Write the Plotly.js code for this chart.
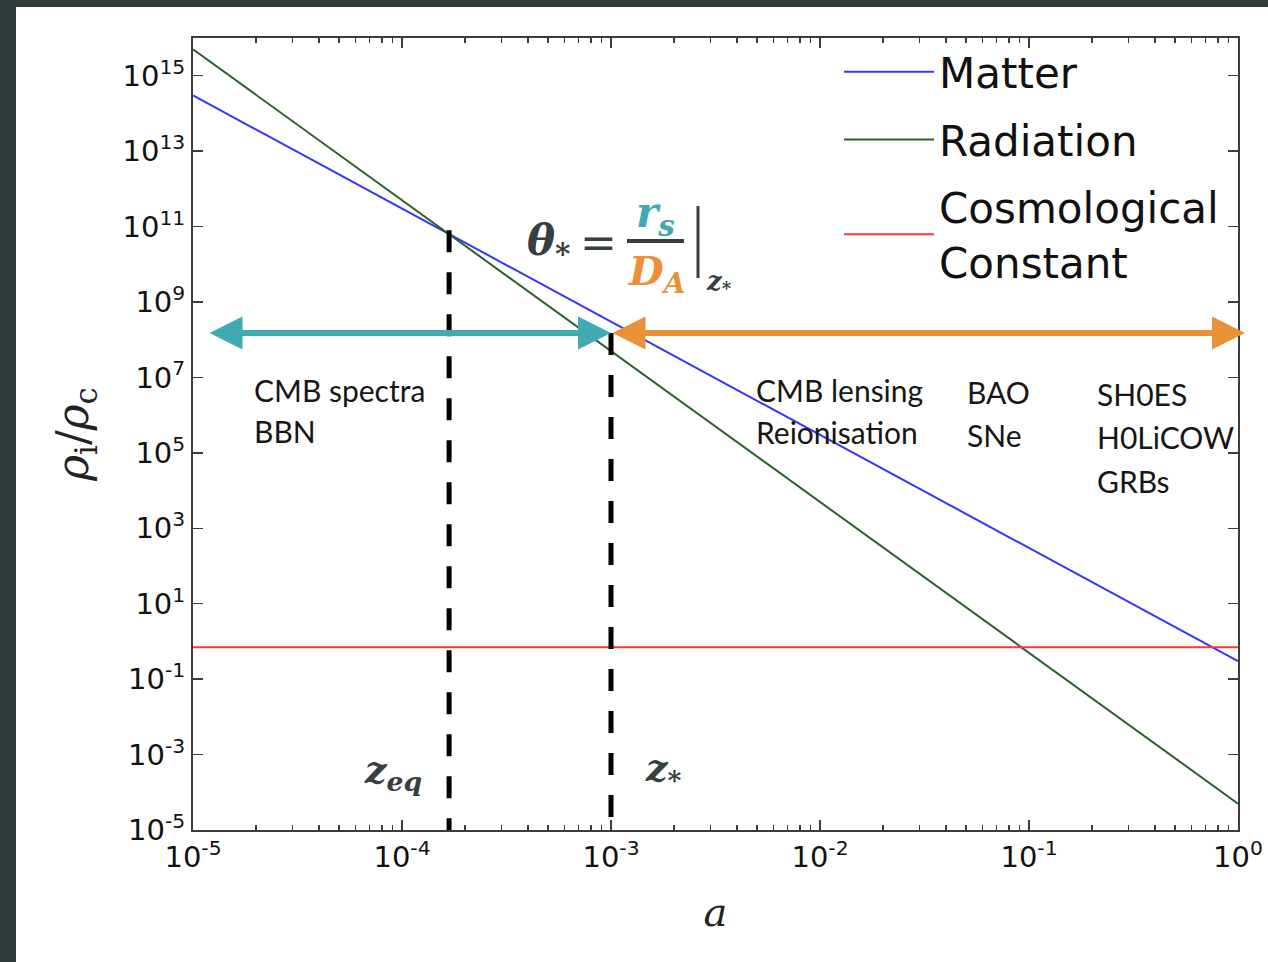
<!DOCTYPE html>
<html><head><meta charset="utf-8">
<script src="https://cdn.plot.ly/plotly-3.0.1.min.js"></script>
<style>
html,body{margin:0;padding:0;background:#313a3a;width:1268px;height:962px;overflow:hidden;}
#chart{position:absolute;left:16px;top:7px;width:1252px;height:955px;background:#fff;}
</style></head><body><div id="chart"></div>
<script>
// ---- data ----
const scaleFactor = [1e-5, 1];            // a
const matterRho = [3.0e14, 0.30];         // rho_m / rho_c
const radiationRho = [5.0e15, 5.0e-5];    // rho_r / rho_c
const lambdaRho = [0.70, 0.70];           // rho_L / rho_c
const seriesNames = ['Matter', 'Radiation', 'Cosmological<br>Constant'];
const seriesColors = ['#3434ff', '#2b612b', '#f23b3b'];

const aEq = 1.68e-4, aStar = 1.0e-3;
const eqDashRho = [8.0e10, 1e-5];
const starDashRho = [1.5e8, 1e-5];

const arrowRho = 1.5e8;
const earlyArrowA = [1.18e-5, 1.0e-3];
const lateArrowA = [1.0e-3, 1.08];

const xTickVals = [1e-5, 1e-4, 1e-3, 1e-2, 1e-1, 1];
const xTickText = ['10<sup>-5</sup>','10<sup>-4</sup>','10<sup>-3</sup>','10<sup>-2</sup>','10<sup>-1</sup>','10<sup>0</sup>'];
const yTickVals = [1e-5,1e-3,1e-1,1e1,1e3,1e5,1e7,1e9,1e11,1e13,1e15];
const yTickText = ['10<sup>-5</sup>','10<sup>-3</sup>','10<sup>-1</sup>','10<sup>1</sup>','10<sup>3</sup>','10<sup>5</sup>','10<sup>7</sup>','10<sup>9</sup>','10<sup>11</sup>','10<sup>13</sup>','10<sup>15</sup>'];

const probeLabels = [
  {t:'CMB spectra', px:252, py:390}, {t:'BBN', px:252, py:431},
  {t:'CMB lensing', px:754, py:390}, {t:'Reionisation', px:754, py:432},
  {t:'BAO', px:965, py:392}, {t:'SNe', px:965, py:435},
  {t:'SH0ES', px:1095, py:394}, {t:'H0LiCOW', px:1095, py:437}, {t:'GRBs', px:1095, py:481}
];

// ---- layout helpers (page pixel -> paper) ----
const PL = 193, PR = 1238, PT = 38, PB = 830;
const px2x = p => (p - PL) / (PR - PL);
const py2y = p => (PB - p) / (PB - PT);

const minorX = [];
for (let e = -5; e < 0; e++) for (let d = 2; d <= 9; d++) minorX.push(d * Math.pow(10, e));

const rhoData = [matterRho, radiationRho, lambdaRho];
const traces = rhoData.map((r, i) => ({
  type: 'scatter', mode: 'lines', x: scaleFactor, y: r, name: seriesNames[i],
  legendgroup: 'g' + i, line: {color: seriesColors[i], width: 2}
}));
traces.push({type:'scatter', mode:'lines', x:[aEq,aEq], y:eqDashRho, showlegend:false,
  line:{color:'#000', width:5, dash:'22px,20px'}});
traces.push({type:'scatter', mode:'lines', x:[aStar,aStar], y:starDashRho, showlegend:false,
  line:{color:'#000', width:5, dash:'22px,20px'}});

const textFont = {family:'Lato, Open Sans, sans-serif', size:30, color:'#161616'};
const mathFont = (size, color) => ({family:'DejaVu Serif', size:size, color:color, weight:'bold', style:'italic'});
const teal = '#40a9b1', orange = '#ea9036', mathGray = '#364040';

const annotations = probeLabels.map(l => ({
  xref:'paper', yref:'paper', x:px2x(l.px), y:py2y(l.py), xanchor:'left', yanchor:'middle',
  text:l.t, showarrow:false, font:textFont
}));

// arrows
const mkArrow = (span, color) => ({
  xref:'x', yref:'y', axref:'x', ayref:'y',
  x: Math.log10(span[1]), y: Math.log10(arrowRho),
  ax: Math.log10(span[0]), ay: Math.log10(arrowRho),
  text:'', showarrow:true, arrowhead:2, startarrowhead:2, arrowside:'end+start',
  arrowsize:1.1, startarrowsize:1.1, arrowwidth:6, arrowcolor:color, standoff:0, startstandoff:0
});
annotations.push(mkArrow(earlyArrowA, teal));
annotations.push(mkArrow(lateArrowA, orange));

// formula
annotations.push({xref:'paper', yref:'paper', x:px2x(525), y:py2y(243), xanchor:'left', yanchor:'middle',
  text:'θ<sub>*</sub>', showarrow:false, font:mathFont(42, mathGray)});
annotations.push({xref:'paper', yref:'paper', x:px2x(598), y:py2y(242), xanchor:'center', yanchor:'middle',
  text:'=', showarrow:false, font:{family:'DejaVu Serif', size:44, color:mathGray}});
annotations.push({xref:'paper', yref:'paper', x:px2x(655), y:py2y(216), xanchor:'center', yanchor:'middle',
  text:'r<sub>s</sub>', showarrow:false, font:mathFont(42, teal)});
annotations.push({xref:'paper', yref:'paper', x:px2x(656), y:py2y(273), xanchor:'center', yanchor:'middle',
  text:'D<sub>A</sub>', showarrow:false, font:mathFont(40, orange)});
annotations.push({xref:'paper', yref:'paper', x:px2x(704), y:py2y(282), xanchor:'left', yanchor:'middle',
  text:'z<sub>*</sub>', showarrow:false, font:mathFont(26, mathGray)});
// z labels
annotations.push({xref:'paper', yref:'paper', x:px2x(362), y:py2y(772), xanchor:'left', yanchor:'middle',
  text:'z<sub>eq</sub>', showarrow:false, font:mathFont(38, mathGray)});
annotations.push({xref:'paper', yref:'paper', x:px2x(643), y:py2y(770), xanchor:'left', yanchor:'middle',
  text:'z<sub>*</sub>', showarrow:false, font:mathFont(38, mathGray)});

const shapes = [
  {type:'line', xref:'paper', yref:'paper', x0:px2x(627), x1:px2x(684), y0:py2y(241), y1:py2y(241),
   line:{color:mathGray, width:4}},
  {type:'line', xref:'paper', yref:'paper', x0:px2x(698), x1:px2x(698), y0:py2y(206), y1:py2y(278),
   line:{color:mathGray, width:3}}
];

const axisCommon = {
  type:'log', showgrid:false, zeroline:false, showline:true, linecolor:'#3c3c3c', linewidth:2,
  mirror:'allticks', ticks:'inside', ticklen:10, tickwidth:1.5, tickcolor:'#3c3c3c',
  tickmode:'array', tickfont:{family:'DejaVu Sans', size:29, color:'#111'}
};

const layout = {
  width:1252, height:955,
  margin:{l:PL-16, r:1268-PR, t:PT-7, b:962-PB},
  paper_bgcolor:'#ffffff', plot_bgcolor:'#ffffff',
  showlegend:true,
  legend:{x:px2x(839), y:1, xanchor:'left', yanchor:'top', bgcolor:'rgba(0,0,0,0)',
    font:{family:'DejaVu Sans', size:42, color:'#111'}, itemwidth:90, traceorder:'grouped', tracegroupgap:10},
  xaxis:Object.assign({}, axisCommon, {
    range:[-5, 0], tickvals:xTickVals, ticktext:xTickText,
    minor:{tickmode:'array', tickvals:minorX, ticks:'inside', ticklen:5, tickwidth:1.5, tickcolor:'#3c3c3c'},
    title:{text:'<i>a</i>', font:{family:'DejaVu Serif', size:40, color:'#222'}, standoff:25}
  }),
  yaxis:Object.assign({}, axisCommon, {
    range:[-5, 16], tickvals:yTickVals, ticktext:yTickText,
    title:{text:'<i>ρ</i><sub>i</sub>/<i>ρ</i><sub>c</sub>', font:{family:'DejaVu Serif', size:44, color:'#222'}, standoff:20}
  }),
  annotations:annotations, shapes:shapes
};

Plotly.newPlot('chart', traces, layout, {displayModeBar:false, staticPlot:true});
</script></body></html>
